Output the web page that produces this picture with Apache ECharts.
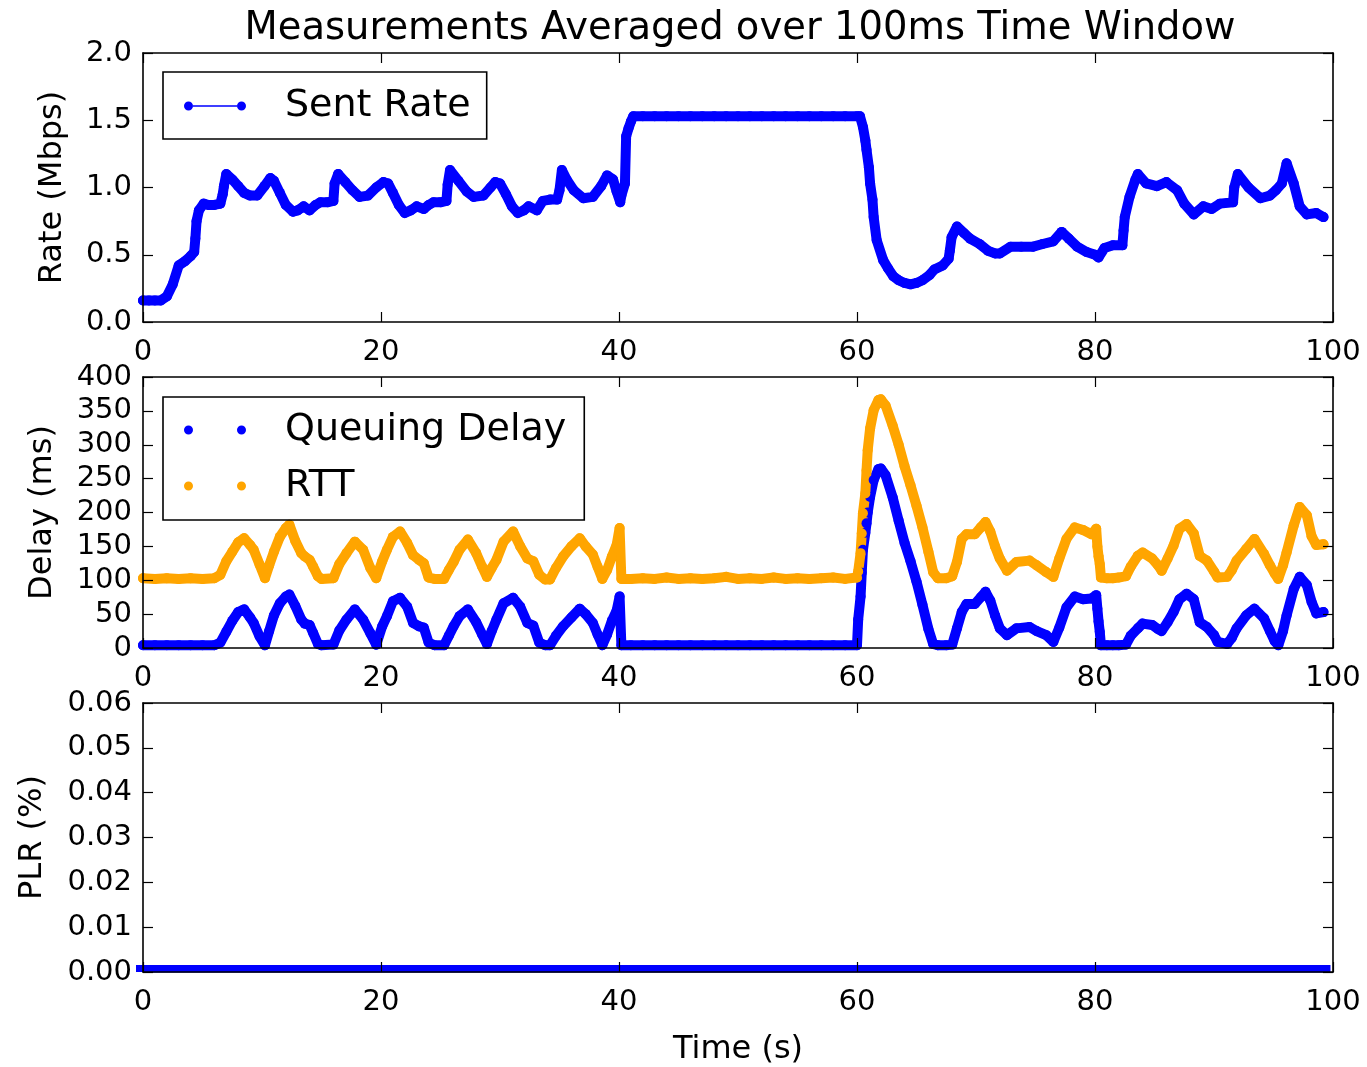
<!DOCTYPE html>
<html>
<head>
<meta charset="utf-8">
<script src="https://cdn.jsdelivr.net/npm/echarts@6/dist/echarts.min.js"></script>
<style>
html,body{margin:0;padding:0;background:#fff;}
#chart{width:1367px;height:1067px;}
</style>
</head>
<body>
<div id="chart"></div>
<script>
// ---------- DATA ----------
const titleText = 'Measurements Averaged over 100ms Time Window';
const timeTicks = [0, 20, 40, 60, 80, 100];
const rateTicks = [0.0, 0.5, 1.0, 1.5, 2.0];
const delayTicks = [0, 50, 100, 150, 200, 250, 300, 350, 400];
const plrTicks = [0.00, 0.01, 0.02, 0.03, 0.04, 0.05, 0.06];

const rateTime = [0,0.5,1.0,1.5,2.0,2.5,3.0,3.5,4.0,4.3,
  4.4,4.5,4.7,5.1,5.5,6.0,6.5,6.7,6.8,7.0,
  7.5,8.0,8.5,9.0,9.6,10.2,10.7,11.0,11.5,12.0,
  12.6,13.0,13.5,14.0,14.5,14.9,15.5,16.0,16.1,16.4,
  17.0,17.6,18.2,18.9,19.6,20.2,20.6,21.0,21.5,22.0,
  22.5,23.0,23.6,24.0,24.4,25.0,25.5,25.6,25.8,26.5,
  27.2,27.8,28.6,29.2,29.6,30.0,30.5,31.0,31.5,32.0,
  32.4,33.1,33.6,34.2,34.8,35.0,35.2,35.6,36.2,37.0,
  37.8,38.5,39.0,39.5,39.8,40.1,40.2,40.5,40.6,40.8,
  41.0,41.2,42,43,44,45,46,47,48,49,
  50,51,52,53,54,55,56,57,58,59,
  60,60.25,60.5,60.7,60.8,61.0,61.1,61.3,61.4,61.65,
  62.2,62.6,63.05,63.5,64.0,64.5,65.0,65.5,66.1,66.5,
  67.2,67.7,67.8,67.95,68.4,69.0,69.5,70.3,71.0,71.6,
  72.0,72.9,73.8,74.8,75.6,76.5,77.2,77.8,78.5,79.3,
  80.0,80.3,80.8,81.5,82.3,82.4,82.5,82.9,83.4,83.6,
  84.3,85.2,86.0,86.9,87.5,88.3,89.1,89.8,90.5,91.6,
  91.7,92.0,92.9,93.9,94.7,95.2,95.7,96.1,96.7,97.2,
  97.8,98.6,99.2];
const rateMbps = [0.16,0.16,0.16,0.16,0.19,0.28,0.42,0.45,0.49,0.52,
  0.62,0.75,0.83,0.88,0.87,0.87,0.88,0.95,1.01,1.10,
  1.06,1.01,0.96,0.94,0.94,1.01,1.07,1.05,0.96,0.87,
  0.82,0.83,0.86,0.83,0.87,0.89,0.89,0.90,1.03,1.10,
  1.04,0.98,0.93,0.94,1.00,1.04,1.03,0.96,0.87,0.81,
  0.83,0.86,0.84,0.87,0.89,0.89,0.90,1.02,1.13,1.05,
  0.97,0.93,0.94,1.00,1.04,1.03,0.95,0.86,0.81,0.83,
  0.86,0.83,0.90,0.91,0.91,0.98,1.13,1.06,0.98,0.92,
  0.93,1.01,1.09,1.06,0.97,0.89,0.94,1.03,1.38,1.44,
  1.49,1.53,1.53,1.53,1.53,1.53,1.53,1.53,1.53,1.53,
  1.53,1.53,1.53,1.53,1.53,1.53,1.53,1.53,1.53,1.53,
  1.53,1.53,1.45,1.35,1.28,1.15,1.03,0.91,0.78,0.61,
  0.46,0.40,0.34,0.31,0.29,0.28,0.29,0.31,0.35,0.39,
  0.42,0.47,0.53,0.63,0.71,0.66,0.62,0.58,0.53,0.51,
  0.51,0.56,0.56,0.56,0.58,0.60,0.67,0.62,0.56,0.52,
  0.50,0.48,0.55,0.57,0.57,0.68,0.78,0.93,1.06,1.10,
  1.03,1.01,1.04,0.98,0.88,0.80,0.86,0.84,0.88,0.89,
  1.00,1.10,1.00,0.92,0.94,0.98,1.03,1.18,1.03,0.86,
  0.80,0.81,0.78];

const delayTime = [0,1,2,3,4,5,6,6.5,7.0,7.5,
  8.0,8.5,9.0,9.3,9.8,10.25,10.6,11.0,11.5,12.0,
  12.3,12.8,13.3,13.6,14.0,14.3,14.7,15.0,16.0,16.5,
  17.1,17.8,18.5,19.1,19.6,20.1,20.5,21.0,21.6,22.2,
  22.7,23.2,23.6,24.0,24.5,25.3,25.7,26.1,26.6,27.3,
  28.0,28.5,28.9,29.3,29.7,30.3,31.1,31.7,32.3,32.8,
  33.3,33.8,34.2,34.7,35.3,36.0,36.7,37.2,37.8,38.2,
  38.6,39.0,39.4,39.8,40.05,40.2,41,42,43,44,
  45,46,47,48,49,50,51,52,53,54,
  55,56,57,58,59,60.0,60.1,60.3,60.4,60.5,
  60.7,60.8,60.9,61.1,61.4,61.8,62.0,62.4,63.0,63.5,
  64.0,64.5,65.0,65.5,66.0,66.4,66.8,67.5,68.0,68.4,
  68.8,69.2,69.9,70.4,70.8,71.2,71.6,72.0,72.6,73.4,
  74.5,75.1,75.9,76.5,77.0,77.6,78.3,79.0,79.7,80.1,
  80.2,80.3,80.4,80.5,81.0,81.5,82.0,82.6,83.0,83.6,
  84.0,84.8,85.3,85.6,86.1,86.6,87.1,87.7,88.3,88.8,
  89.4,90.0,90.3,91.1,91.5,91.9,92.7,93.4,94.2,94.7,
  95.1,95.4,95.8,96.1,96.7,97.2,97.8,98.2,98.6,99.2];
const queuingDelay = [4,4,4,4,4,4,4,8,24,40,
  53,57,45,37,17,4,25,48,66,76,
  79,62,42,36,34,22,6,4,5,26,
  42,57,42,22,5,32,47,69,74,61,
  37,32,30,8,4,4,18,32,47,57,
  38,20,6,25,42,66,74,61,37,33,
  8,4,4,18,32,45,58,50,37,20,
  4,20,40,55,76,4,4,4,4,4,
  4,4,4,4,4,4,4,4,4,4,
  4,4,4,4,4,4,42,76,111,145,
  170,184,200,223,248,264,265,255,222,188,
  155,128,98,64,28,6,4,4,5,29,
  53,65,65,75,83,70,48,29,19,29,
  31,25,19,9,30,60,76,72,73,78,
  58,39,24,4,4,4,4,5,18,29,
  36,34,28,25,38,53,72,80,72,38,
  31,19,9,6,15,29,48,58,44,25,
  10,4,25,48,87,105,93,68,51,53];
const rttMs = [103,102,103,102,103,102,103,108,128,142,
  156,162,152,145,123,103,122,142,164,177,
  182,158,140,135,130,120,106,102,103,124,
  140,157,145,118,103,128,145,164,172,155,
  137,130,125,104,102,102,115,127,145,160,
  140,120,105,118,130,157,172,150,132,128,
  108,101,101,118,135,150,162,150,138,120,
  102,115,135,152,177,102,102,103,102,104,
  102,103,102,103,105,102,103,102,104,102,
  103,102,103,104,102,104,113,140,169,199,
  228,262,292,324,351,366,367,358,328,300,
  268,240,210,178,142,112,103,103,106,127,
  161,168,168,178,186,172,150,132,114,127,
  129,122,112,105,132,161,178,174,168,176,
  150,135,124,104,103,103,104,106,120,136,
  141,132,122,114,132,151,176,183,169,136,
  129,113,104,105,115,129,146,161,139,122,
  110,102,122,141,181,208,196,165,152,153];

const plrTime = [0,1,2,3,4,5,6,7,8,9,10,11,12,13,14,15,16,17,18,19,
  20,21,22,23,24,25,26,27,28,29,30,31,32,33,34,35,36,37,38,39,
  40,41,42,43,44,45,46,47,48,49,50,51,52,53,54,55,56,57,58,59,
  60,61,62,63,64,65,66,67,68,69,70,71,72,73,74,75,76,77,78,79,
  80,81,82,83,84,85,86,87,88,89,90,91,92,93,94,95,96,97,98,99,99.2];
const plrPct = [0,0,0,0,0,0,0,0,0,0,0,0,0,0,0,0,0,0,0,0,
  0,0,0,0,0,0,0,0,0,0,0,0,0,0,0,0,0,0,0,0,
  0,0,0,0,0,0,0,0,0,0,0,0,0,0,0,0,0,0,0,0,
  0,0,0,0,0,0,0,0,0,0,0,0,0,0,0,0,0,0,0,0,
  0,0,0,0,0,0,0,0,0,0,0,0,0,0,0,0,0,0,0,0,0];

// ---------- CHART ----------
const FONT = 'DejaVu Sans';
const BLUE = '#0000ff', ORANGE = '#ffa500';
const pair = (xs, ys) => xs.map((x, i) => [x, ys[i]]);

const grids = [
  {left: 143, right: 34, top: 53, height: 269},
  {left: 143, right: 34, top: 377, height: 271},
  {left: 143, right: 34, top: 703, height: 270}
];
const tickStyle = {show: true, inside: true, length: 10, lineStyle: {color: '#000', width: 1.2}};
const lineAx = {show: true, onZero: false, lineStyle: {color: '#000', width: 1.6}};
const lbl = {fontFamily: FONT, fontSize: 29, color: '#000'};
const nameStyle = {fontFamily: FONT, fontSize: 32, color: '#000'};

const xAxes = [], yAxes = [];
grids.forEach((g, i) => {
  const base = {type: 'value', gridIndex: i, min: timeTicks[0], max: timeTicks[timeTicks.length - 1],
    interval: timeTicks[1] - timeTicks[0], splitLine: {show: false}, axisTick: tickStyle, axisLine: lineAx, z: 5};
  xAxes.push(Object.assign({}, base, {position: 'bottom',
    axisLabel: Object.assign({margin: 16, formatter: v => String(v)}, lbl),
    name: i === 2 ? 'Time (s)' : '', nameLocation: 'middle', nameGap: 62,
    nameTextStyle: nameStyle}));
  xAxes.push(Object.assign({}, base, {position: 'top', axisLabel: {show: false}}));
});
const yCfg = [
  {ticks: rateTicks, name: 'Rate (Mbps)', gap: 74, fmt: v => v.toFixed(1)},
  {ticks: delayTicks, name: 'Delay (ms)', gap: 84, fmt: v => String(Math.round(v))},
  {ticks: plrTicks, name: 'PLR (%)', gap: 94, fmt: v => v.toFixed(2)}
];
yCfg.forEach((c, i) => {
  const base = {type: 'value', gridIndex: i, min: c.ticks[0], max: c.ticks[c.ticks.length - 1],
    interval: c.ticks[1] - c.ticks[0], splitLine: {show: false}, axisTick: tickStyle, axisLine: lineAx, z: 5};
  yAxes.push(Object.assign({}, base, {position: 'left',
    axisLabel: Object.assign({margin: 11, formatter: c.fmt}, lbl),
    name: c.name, nameLocation: 'middle', nameGap: c.gap,
    nameTextStyle: nameStyle}));
  yAxes.push(Object.assign({}, base, {position: 'right', axisLabel: {show: false}}));
});

const dotLineDot = 'path://M0,4.5A4.5,4.5,0,1,1,9,4.5A4.5,4.5,0,1,1,0,4.5Z M9,3.8L53,3.8L53,5.2L9,5.2Z M53,4.5A4.5,4.5,0,1,1,62,4.5A4.5,4.5,0,1,1,53,4.5Z';
const dotDot = 'path://M0,4.5A4.5,4.5,0,1,1,9,4.5A4.5,4.5,0,1,1,0,4.5Z M53,4.5A4.5,4.5,0,1,1,62,4.5A4.5,4.5,0,1,1,53,4.5Z';
const legendText = {fontFamily: FONT, fontSize: 38, color: '#000', padding: [0, 0, 0, 34]};

function bandSeries(name, xs, ys, color, gi) {
  return {
    name, type: 'line', xAxisIndex: gi * 2, yAxisIndex: gi * 2,
    data: pair(xs, ys), symbol: 'circle', symbolSize: 10, showSymbol: true,
    lineStyle: {color, width: 10, cap: 'round', join: 'round'},
    itemStyle: {color, borderWidth: 0}, animation: false, z: 2
  };
}

const option = {
  backgroundColor: '#fff',
  animation: false,
  title: {text: titleText, left: 735, textAlign: 'center', top: 4, padding: 5,
    textStyle: {fontFamily: FONT, fontSize: 38.5, fontWeight: 'normal', color: '#000'}},
  grid: grids,
  xAxis: xAxes,
  yAxis: yAxes,
  legend: [
    {data: ['Sent Rate'], left: 163, top: 72, orient: 'vertical', icon: dotLineDot,
      itemWidth: 62, itemHeight: 9, padding: [15, 16, 14, 21], borderColor: '#000', borderWidth: 1.6,
      textStyle: legendText, selectedMode: false},
    {data: ['Queuing Delay', 'RTT'], left: 163, top: 397, orient: 'vertical', icon: dotDot,
      itemWidth: 62, itemHeight: 9, itemGap: 18, padding: [14, 18, 15, 21], borderColor: '#000', borderWidth: 1.6,
      textStyle: legendText, selectedMode: false}
  ],
  series: [
    bandSeries('Sent Rate', rateTime, rateMbps, BLUE, 0),
    bandSeries('Queuing Delay', delayTime, queuingDelay, BLUE, 1),
    bandSeries('RTT', delayTime, rttMs, ORANGE, 1),
    {name: 'PLR', type: 'line', xAxisIndex: 4, yAxisIndex: 4, data: pair(plrTime, plrPct),
      symbol: 'rect', symbolSize: [14, 7], symbolOffset: [0, -3.5], showSymbol: true,
      lineStyle: {color: BLUE, width: 1.5}, itemStyle: {color: BLUE}, animation: false, z: 2}
  ]
};
const chart = echarts.init(document.getElementById('chart'), null, {renderer: 'canvas'});
chart.setOption(option);
</script>
</body>
</html>
